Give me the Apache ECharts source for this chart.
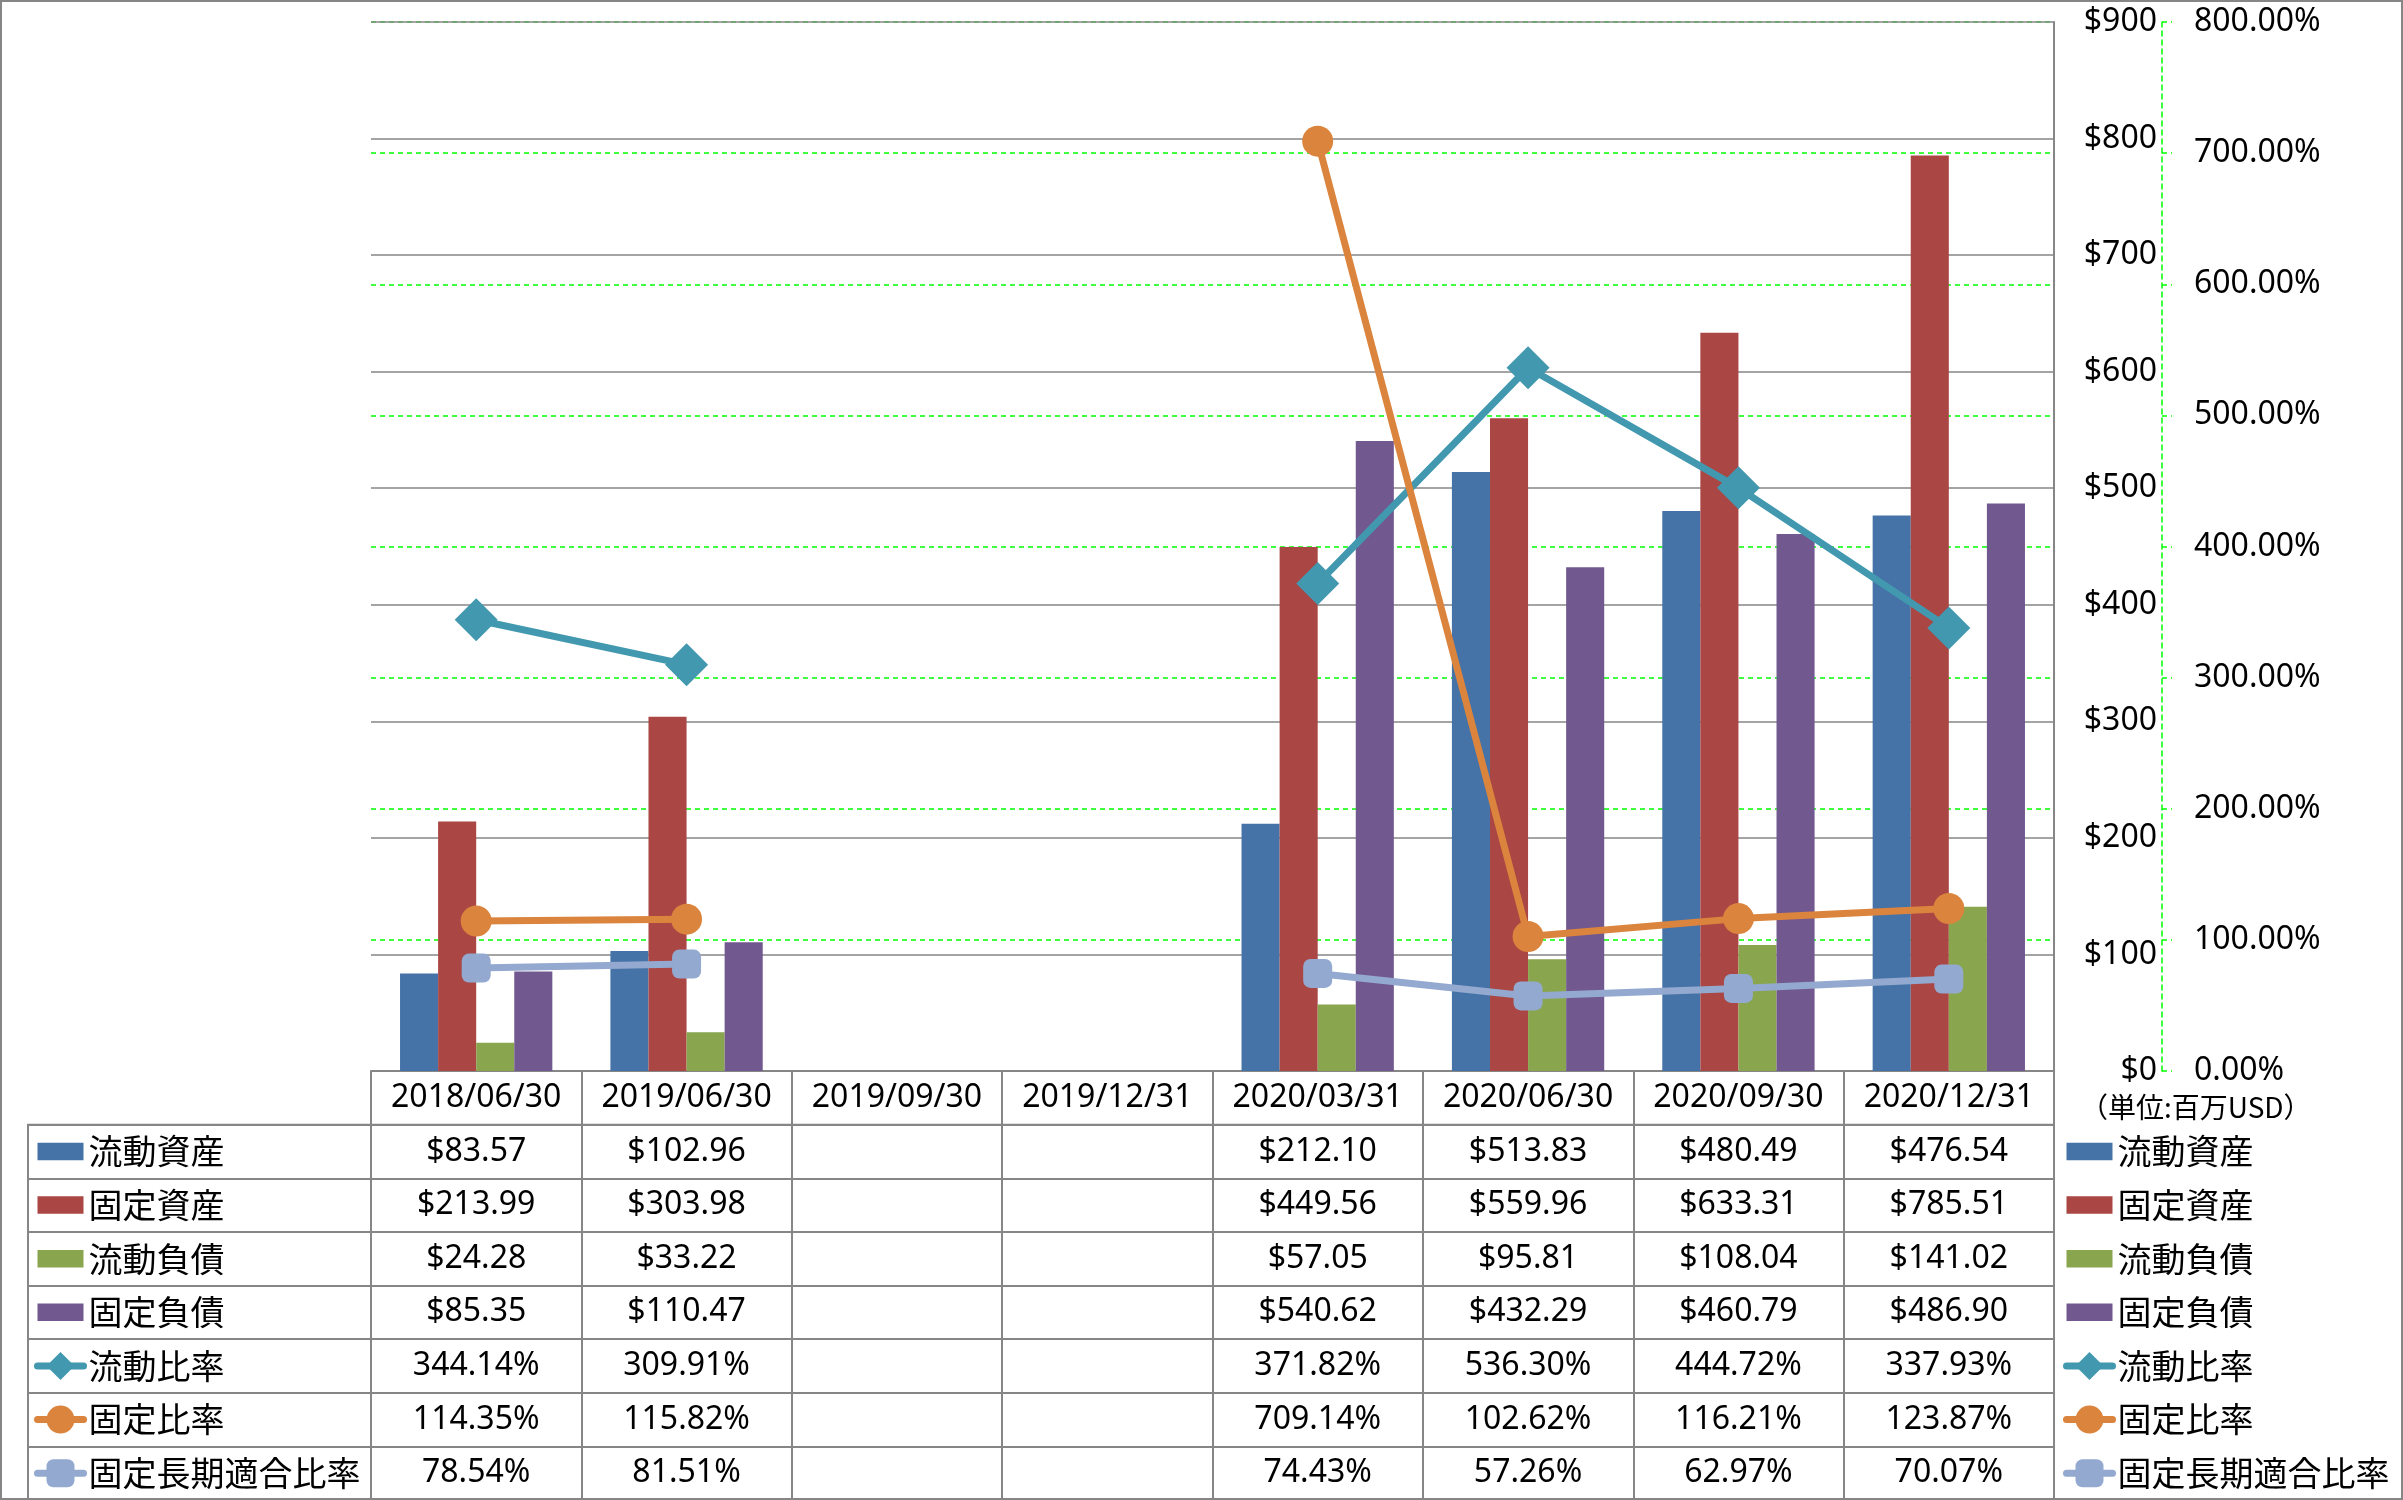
<!DOCTYPE html>
<html><head><meta charset="utf-8">
<script src="https://cdn.jsdelivr.net/npm/echarts@6/dist/echarts.min.js"></script>
<style>html,body{margin:0;padding:0;background:#fff}#c{width:2403px;height:1500px}</style>
</head><body><div id="c"></div>
<script>
// ---- data ----
const categories = ['2018/06/30','2019/06/30','2019/09/30','2019/12/31','2020/03/31','2020/06/30','2020/09/30','2020/12/31'];
const currentAssets      = [83.57, 102.96, null, null, 212.10, 513.83, 480.49, 476.54];
const fixedAssets        = [213.99, 303.98, null, null, 449.56, 559.96, 633.31, 785.51];
const currentLiabilities = [24.28, 33.22, null, null, 57.05, 95.81, 108.04, 141.02];
const fixedLiabilities   = [85.35, 110.47, null, null, 540.62, 432.29, 460.79, 486.90];
const currentRatio       = [344.14, 309.91, null, null, 371.82, 536.30, 444.72, 337.93];
const fixedRatio         = [114.35, 115.82, null, null, 709.14, 102.62, 116.21, 123.87];
const fixedLongTermRatio = [78.54, 81.51, null, null, 74.43, 57.26, 62.97, 70.07];
const seriesNames = ['流動資産','固定資産','流動負債','固定負債','流動比率','固定比率','固定長期適合比率'];
const moneyAxis = {min: 0, max: 900, interval: 100};
const pctAxis = {min: 0, max: 800, interval: 100};
const unitLabel = '（単位:百万USD）';

// ---- styles / layout ----
const W = 2403, H = 1500;
const gL = 371, gR = 2054, gT = 22, gB = 1071;
const rowH = (H - gB) / 8;
const GRAY = '#868686';
const GREEN = '#00FF00';
const LATIN = "'Noto Sans', 'Noto Sans CJK JP', sans-serif";
const CJK = "'Noto Sans CJK JP', sans-serif";
const colors = ['#4572A7', '#AA4643', '#89A54E', '#71588F', '#4198AF', '#DB843D', '#93A9CF'];
const money = v => '$' + v.toFixed(2);
const pct = v => v.toFixed(2) + '%';

const rows = [
  {data: currentAssets, fmt: money},
  {data: fixedAssets, fmt: money},
  {data: currentLiabilities, fmt: money},
  {data: fixedLiabilities, fmt: money},
  {data: currentRatio, fmt: pct},
  {data: fixedRatio, fmt: pct},
  {data: fixedLongTermRatio, fmt: pct}
];

const xAxes = [{
  gridIndex: 0, type: 'category', data: categories, position: 'bottom', z: 2,
  axisLine: {show: true, lineStyle: {color: GRAY, width: 2}},
  axisTick: {show: true, interval: 0, alignWithLabel: false, length: H - gB, lineStyle: {color: GRAY, width: 2}},
  axisLabel: {interval: 0, margin: rowH / 2, verticalAlign: 'middle', fontSize: 32, color: '#000', fontFamily: LATIN},
  splitLine: {show: false}
}];
rows.forEach((r, k) => {
  xAxes.push({
    gridIndex: 0, type: 'category', data: categories, position: 'bottom', offset: rowH * (k + 1),
    axisLine: {show: false}, axisTick: {show: false}, splitLine: {show: false},
    axisLabel: {interval: 0, margin: rowH / 2, verticalAlign: 'middle', fontSize: 32, color: '#000', fontFamily: LATIN,
      formatter: (v, i) => r.data[i] == null ? '' : r.fmt(r.data[i])}
  });
});
xAxes.push({gridIndex: 1, type: 'value', show: false});

const barIcon = 'path://M0,0h45v17h-45z';
const legendData = seriesNames.map((n, i) => i < 4 ? {name: n, icon: barIcon} : {name: n});
const legendBase = {
  data: legendData, orient: 'vertical', top: gB + rowH + (rowH - 35) / 2,
  itemWidth: 46, itemHeight: 35, itemGap: rowH - 35, padding: 0, selectedMode: false,
  lineStyle: {width: 7, cap: 'round'},
  textStyle: {fontSize: 34, fontFamily: CJK, color: '#000', lineHeight: 35}
};

const barValues = [currentAssets, fixedAssets, currentLiabilities, fixedLiabilities];
const lineValues = [currentRatio, fixedRatio, fixedLongTermRatio];
const lineSymbols = [['diamond', 43], ['circle', 31], ['roundRect', 29]];

const series = [];
barValues.forEach((d, i) => series.push({
  type: 'bar', name: seriesNames[i], data: d, xAxisIndex: 0, yAxisIndex: 0,
  barGap: 0, barCategoryGap: '27.6%', itemStyle: {color: colors[i]}
}));
lineValues.forEach((d, j) => series.push({
  type: 'line', name: seriesNames[4 + j], data: d, xAxisIndex: 0, yAxisIndex: 1,
  symbol: lineSymbols[j][0], symbolSize: lineSymbols[j][1], connectNulls: false,
  lineStyle: {width: 7, color: colors[4 + j], cap: 'round'}, itemStyle: {color: colors[4 + j]}, z: 5
}));

const option = {
  animation: false,
  backgroundColor: '#fff',
  grid: [
    {left: gL, right: W - gR, top: gT, bottom: H - gB, outerBoundsMode: 'none', containLabel: false},
    {left: 28, right: W - gR, top: gB + rowH, bottom: 0, outerBoundsMode: 'none', containLabel: false,
     show: true, borderColor: GRAY, borderWidth: 2, backgroundColor: 'transparent'}
  ],
  xAxis: xAxes,
  yAxis: [
    {gridIndex: 0, type: 'value', position: 'right', z: 1, min: moneyAxis.min, max: moneyAxis.max, interval: moneyAxis.interval,
     axisLine: {show: true, lineStyle: {color: GRAY, width: 2}}, axisTick: {show: false},
     axisLabel: {formatter: v => '$' + v, align: 'right', margin: 103, fontSize: 32, color: '#000', fontFamily: LATIN},
     splitLine: {show: true, lineStyle: {color: GRAY, width: 1.5}}},
    {gridIndex: 0, type: 'value', position: 'right', z: 0, offset: 108, min: pctAxis.min, max: pctAxis.max, interval: pctAxis.interval,
     axisLine: {show: true, lineStyle: {color: GREEN, width: 1.5, type: [5, 4]}},
     axisTick: {show: true, inside: false, length: 10, lineStyle: {color: GREEN, width: 1.5, type: [5, 4]}},
     axisLabel: {formatter: v => v.toFixed(2) + '%', align: 'left', margin: 32, fontSize: 32, color: '#000', fontFamily: LATIN},
     splitLine: {show: true, lineStyle: {color: GREEN, width: 1.5, type: [5, 4]}}},
    {gridIndex: 1, type: 'category', data: seriesNames, inverse: true,
     axisLine: {show: false}, axisTick: {show: false}, axisLabel: {show: false},
     splitLine: {show: true, interval: 0, lineStyle: {color: GRAY, width: 2}}}
  ],
  legend: [
    Object.assign({}, legendBase, {left: 34}),
    Object.assign({}, legendBase, {left: 2063})
  ],
  graphic: [
    {type: 'text', left: 2080, top: gB + 22, style: {text: unitLabel, fontSize: 28, fontFamily: CJK, fill: '#000'}},
    {type: 'rect', shape: {x: 1, y: 1, width: W - 2, height: H - 2}, style: {fill: 'none', stroke: GRAY, lineWidth: 2}, silent: true, z: 100}
  ],
  series: series
};

const chart = echarts.init(document.getElementById('c'), null, {renderer: 'canvas'});
chart.setOption(option);
</script>
</body></html>
